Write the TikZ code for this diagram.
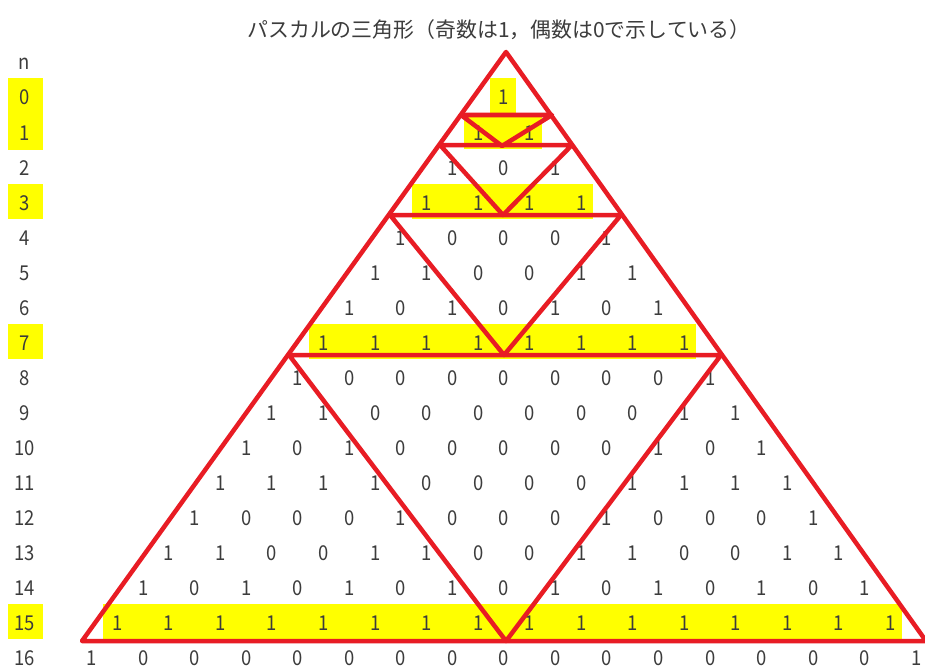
\documentclass[tikz,border=0pt]{standalone}
\usepackage{fontspec}
\setmainfont{Noto Sans CJK JP}
\newfontfamily\numfont[FakeStretch=0.9]{Noto Sans CJK JP}
\definecolor{txt}{RGB}{60,60,60}
\definecolor{yel}{RGB}{255,255,0}
\definecolor{redc}{RGB}{232,28,36}
\begin{document}
\begin{tikzpicture}[x=1pt,y=-1pt,
  num/.style={anchor=base, inner sep=0pt, text=txt, font=\numfont\fontsize{20.5}{20.5}\selectfont},
  lab/.style={anchor=base, inner sep=0pt, text=txt, font=\numfont\fontsize{20.5}{20.5}\selectfont},
  hl/.style={fill=yel, draw=none},
  redline/.style={draw=redc, line width=4.5pt, line join=round, line cap=round}]
\useasboundingbox (0,0) rectangle (925,666);
\fill[white] (0,0) rectangle (925,666);
% title
\node[text=txt, font=\fontsize{20.9}{20.9}\selectfont, inner sep=0pt] (title) at (499,29.5) {パスカルの三角形（奇数は1，偶数は0で示している）};
% highlights of label column
\fill[hl] (8,78.5) rectangle (43,150);
\foreach \k in {3,7,15} {
  \fill[hl] (8,{97.5+35*\k-19}) rectangle (43,{97.5+35*\k+16.5});
}
% highlights of odd rows
\foreach \k in {0,1,3,7,15} {
  \fill[hl] ({504-\k*25.77-14.3},{97.5+35*\k-19}) rectangle ({504+\k*25.77+11.8},{97.5+35*\k+16.5});
}
% labels
\node[lab] (lab-n) at (24.5,{97.5-35+7.5}) {n};
\foreach \k in {0,...,16} {
  \node[lab] (lab-\k) at (24.5,{97.5+35*\k+7.5}) {\k};
}
% entries
\foreach \k/\row in {
  0/{1},
  1/{1,1},
  2/{1,0,1},
  3/{1,1,1,1},
  4/{1,0,0,0,1},
  5/{1,1,0,0,1,1},
  6/{1,0,1,0,1,0,1},
  7/{1,1,1,1,1,1,1,1},
  8/{1,0,0,0,0,0,0,0,1},
  9/{1,1,0,0,0,0,0,0,1,1},
  10/{1,0,1,0,0,0,0,0,1,0,1},
  11/{1,1,1,1,0,0,0,0,1,1,1,1},
  12/{1,0,0,0,1,0,0,0,1,0,0,0,1},
  13/{1,1,0,0,1,1,0,0,1,1,0,0,1,1},
  14/{1,0,1,0,1,0,1,0,1,0,1,0,1,0,1},
  15/{1,1,1,1,1,1,1,1,1,1,1,1,1,1,1,1},
  16/{1,0,0,0,0,0,0,0,0,0,0,0,0,0,0,0,1}} {
  \foreach \v [count=\j from 0] in \row {
    \node[num] (e-\k-\j) at ({504+(2*\j-\k)*25.77},{97.5+35*\k+7.5}) {\v};
  }
}
% red Sierpinski lines
\coordinate (A) at (506,52);
\coordinate (BL) at (82,641);
\coordinate (BR) at (926,641);
\coordinate (L7) at (289,355);
\coordinate (R7) at (721,355);
\coordinate (M15) at (506,641);
\coordinate (L3) at (390,215);
\coordinate (R3) at (621,215);
\coordinate (M7) at (504,355);
\coordinate (L1) at (440,145);
\coordinate (R1) at (572,145);
\coordinate (M3) at (503,215);
\coordinate (L0) at (461,115);
\coordinate (R0) at (552,115);
\coordinate (M1) at (502,146);
\draw[redline] (A) -- (BL) -- (BR) -- cycle;
\draw[redline] (L7) -- (R7) -- (M15) -- cycle;
\draw[redline] (L3) -- (R3) -- (M7) -- cycle;
\draw[redline] (L1) -- (R1) -- (M3) -- cycle;
\draw[redline] (L0) -- (R0) -- (M1) -- cycle;
\end{tikzpicture}
\end{document}
